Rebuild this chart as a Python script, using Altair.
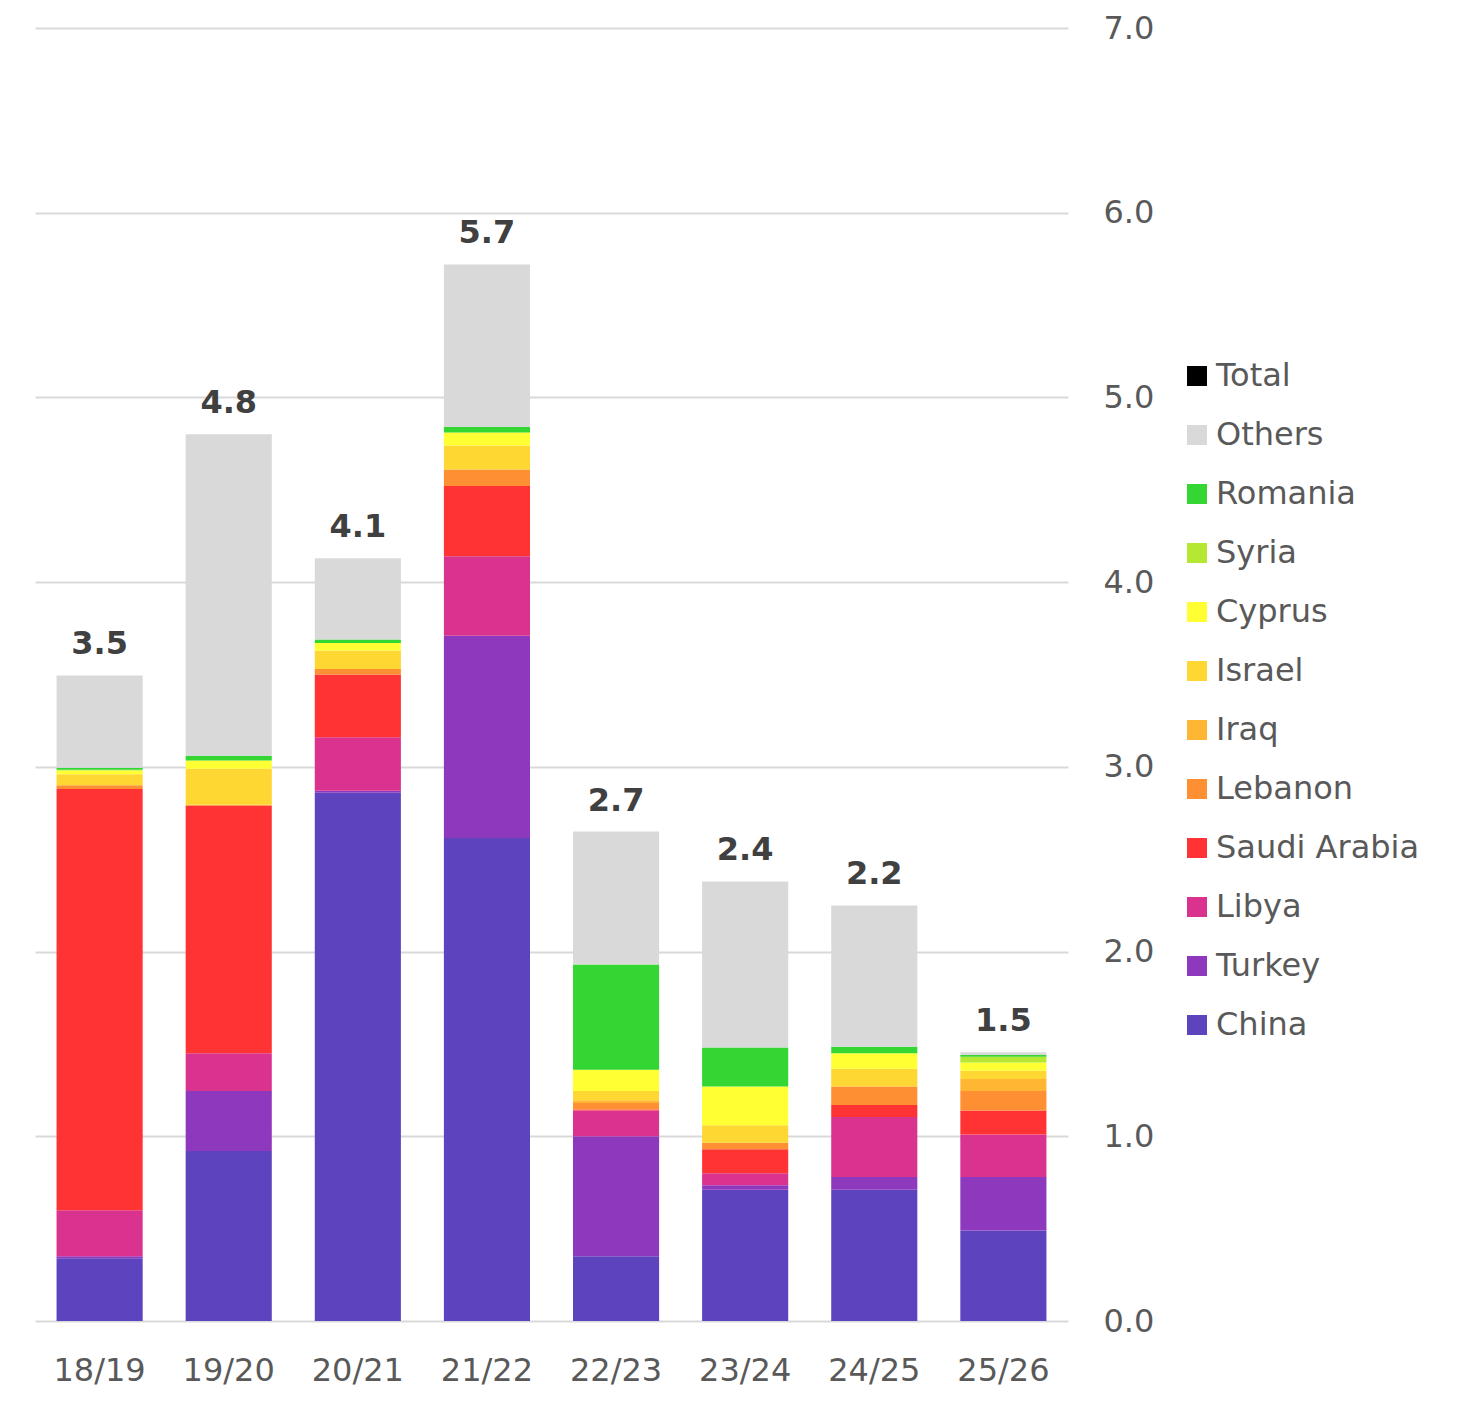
import altair as alt
import pandas as pd

seasons = ["18/19", "19/20", "20/21", "21/22", "22/23", "23/24", "24/25", "25/26"]
totals = ["3.5", "4.8", "4.1", "5.7", "2.7", "2.4", "2.2", "1.5"]

china = [0.34, 0.92, 2.86, 2.615, 0.35, 0.71, 0.71, 0.49]
turkey = [0.01, 0.325, 0.01, 1.095, 0.65, 0.025, 0.07, 0.29]
libya = [0.25, 0.205, 0.29, 0.43, 0.14, 0.065, 0.325, 0.23]
saudi = [2.28, 1.34, 0.34, 0.38, 0.005, 0.13, 0.065, 0.13]
lebanon = [0.02, 0.005, 0.03, 0.09, 0.035, 0.035, 0.10, 0.105]
iraq = [0.0, 0.0, 0.0, 0.0, 0.015, 0.0, 0.0, 0.065]
israel = [0.06, 0.195, 0.10, 0.13, 0.05, 0.095, 0.095, 0.045]
cyprus = [0.02, 0.045, 0.04, 0.07, 0.115, 0.21, 0.085, 0.045]
syria = [0.005, 0.0, 0.0, 0.0, 0.0, 0.0, 0.0, 0.03]
romania = [0.01, 0.025, 0.02, 0.03, 0.57, 0.21, 0.035, 0.01]
others = [0.50, 1.74, 0.44, 0.88, 0.72, 0.90, 0.765, 0.015]

stack_names = ["China", "Turkey", "Libya", "Saudi Arabia", "Lebanon", "Iraq",
               "Israel", "Cyprus", "Syria", "Romania", "Others"]
stack_values = [china, turkey, libya, saudi, lebanon, iraq, israel, cyprus,
                syria, romania, others]

legend_order = ["Total", "Others", "Romania", "Syria", "Cyprus", "Israel", "Iraq",
                "Lebanon", "Saudi Arabia", "Libya", "Turkey", "China"]
legend_colors = ["#000000", "#d9d9d9", "#33d633", "#b5e833", "#ffff33", "#ffd733",
                 "#ffb733", "#ff8f33", "#ff3333", "#d9338f", "#8e38be", "#5e43bf"]

rows = []
for idx, (name, vals) in enumerate(zip(stack_names, stack_values)):
    for s, v in zip(seasons, vals):
        rows.append({"season": s, "country": name, "value": v, "idx": idx})
df = pd.DataFrame(rows)

tops = [sum(vals[i] for vals in stack_values) for i in range(len(seasons))]
lab = pd.DataFrame({"season": seasons, "top": tops, "label": totals})

FONT = "DejaVu Sans"

xenc = alt.X("season:N", sort=seasons,
             scale=alt.Scale(paddingInner=0.333, paddingOuter=0.167),
             axis=alt.Axis(title=None, labelAngle=0, ticks=False, domain=False,
                           labelPadding=34, labelFontSize=32, labelColor="#595959",
                           labelFont=FONT))

bars = alt.Chart(df).mark_bar().encode(
    x=xenc,
    y=alt.Y("value:Q", stack="zero",
            scale=alt.Scale(domain=[0, 7], nice=False),
            axis=alt.Axis(orient="right", values=[0, 1, 2, 3, 4, 5, 6, 7], format=".1f",
                          title=None, ticks=False, domain=False, labelPadding=35,
                          labelFontSize=32, labelColor="#595959", labelFont=FONT,
                          grid=True, gridColor="#d9d9d9", gridWidth=2)),
    color=alt.Color("country:N",
                    scale=alt.Scale(domain=legend_order, range=legend_colors),
                    legend=alt.Legend(title=None, orient="none", legendX=1146, legendY=332,
                                      symbolType="square", symbolSize=400,
                                      symbolStrokeWidth=0, labelFontSize=32,
                                      labelColor="#595959", labelFont=FONT,
                                      labelLimit=0, rowPadding=27, labelOffset=3)),
    order=alt.Order("idx:Q", sort="ascending"),
)

texts = alt.Chart(lab).mark_text(baseline="bottom", dy=-14, fontSize=32,
                                 fontWeight="bold", color="#404040", font=FONT).encode(
    x=alt.X("season:N", sort=seasons),
    y=alt.Y("top:Q"),
    text="label:N",
)

chart = alt.layer(bars, texts).properties(
    width=1033, height=1293,
    autosize=alt.AutoSizeParams(type="none"),
    padding={"left": 27, "top": 20, "right": 387, "bottom": 70},
).configure_view(stroke=None)

chart.save("out.html", embed_options={"renderer": "svg", "actions": False})
